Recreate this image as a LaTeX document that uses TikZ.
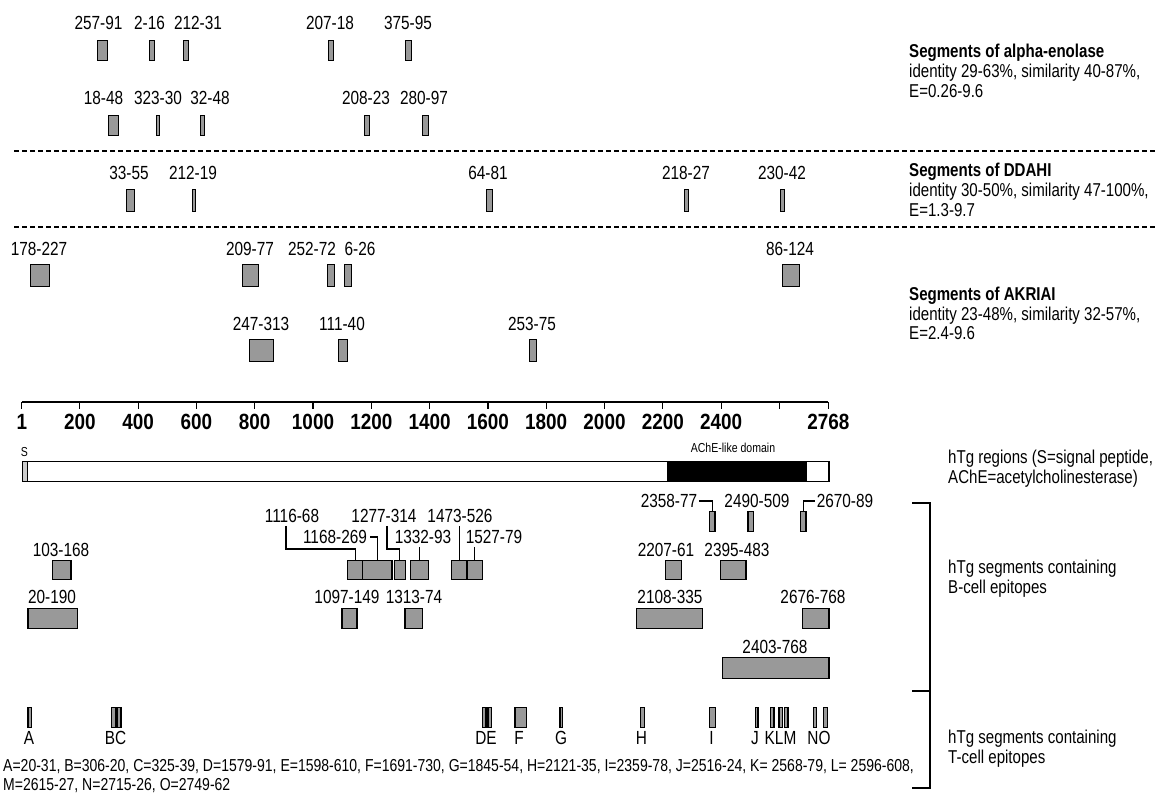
\documentclass[tikz,border=0pt]{standalone}
\usepackage{fontspec}
\setmainfont{Liberation Sans}[FakeStretch=0.81]
\newfontfamily\tickfont[FakeStretch=0.86]{Liberation Sans}
\pgfmathdeclarefunction{rx}{1}{\pgfmathparse{21.5+0.2915*#1}}
\newcommand{\pbox}[5]{%
  \pgfmathsetmacro{\segW}{#3-#2}\pgfmathsetmacro{\segH}{#5-#4}%
  \node[seg, minimum width=\segW pt, minimum height=\segH pt] (#1) at (#2,#4) {};}
\newcommand{\rbox}[5]{%
  \pgfmathsetmacro{\segXa}{rx(#2)}\pgfmathsetmacro{\segXb}{rx(#3)}%
  \pbox{#1}{\segXa}{\segXb}{#4}{#5}}
\definecolor{segfill}{gray}{0.6}
\begin{document}
\begin{tikzpicture}[x=1pt,y=-1pt,
  lab/.style={font=\fontsize{19}{22}\selectfont, inner sep=0pt},
  txt/.style={font=\fontsize{18.6}{21}\selectfont, inner sep=0pt, anchor=base west},
  btxt/.style={font=\fontsize{18.6}{21}\selectfont\bfseries, inner sep=0pt, anchor=base west},
  foot/.style={font=\fontsize{17.3}{20}\selectfont, inner sep=0pt, anchor=base west},
  ticklab/.style={font=\tickfont\fontsize{22}{24}\selectfont\bfseries, inner sep=0pt},
  small/.style={font=\fontsize{13}{15}\selectfont, inner sep=0pt},
  seg/.style={draw=black, fill=segfill, line width=1.3pt, inner sep=0pt, anchor=north west},
  conn/.style={draw=black, line width=1.1pt},
  sep/.style={draw=black, line width=1.2pt, dash pattern=on 5pt off 3pt}]
\useasboundingbox (0,0) rectangle (1156,794);

% ---------- separators ----------
\coordinate (s1a) at (14,151); \coordinate (s1b) at (1156,151);
\coordinate (s2a) at (14,227); \coordinate (s2b) at (1156,227);
\draw[sep] (s1a) -- (s1b);
\draw[sep] (s2a) -- (s2b);

% ---------- alpha-enolase ----------
\node[lab] (e1) at (98.5,23) {257-91};  \pbox{eb1}{97}{107}{40}{60}
\node[lab] (e2) at (149.5,23) {2-16};   \pbox{eb2}{149}{154}{40}{60}
\node[lab] (e3) at (198,23) {212-31};   \pbox{eb3}{183}{188}{40}{60}
\node[lab] (e4) at (330,23) {207-18};   \pbox{eb4}{328}{333}{40}{60}
\node[lab] (e5) at (408,23) {375-95};   \pbox{eb5}{405}{411}{40}{60}
\node[lab] (e6) at (103.5,98) {18-48};  \pbox{eb6}{108}{118}{115}{135}
\node[lab] (e7) at (158,98) {323-30};   \pbox{eb7}{156}{159}{115}{135}
\node[lab] (e8) at (210,98) {32-48};    \pbox{eb8}{200}{204}{115}{135}
\node[lab] (e9) at (366,98) {208-23};   \pbox{eb9}{364}{369}{115}{135}
\node[lab] (e10) at (424,98) {280-97};  \pbox{eb10}{422}{428}{115}{135}
\node[btxt] (eh1) at (909,58) {Segments of alpha-enolase};
\node[txt] (eh2) at (909,78) {identity 29-63\%, similarity 40-87\%,};
\node[txt] (eh3) at (909,98) {E=0.26-9.6};

% ---------- DDAHI ----------
\node[lab] (d1) at (129,173) {33-55};  \pbox{db1}{126}{134}{189}{211}
\node[lab] (d2) at (193,173) {212-19}; \pbox{db2}{192}{195}{189}{211}
\node[lab] (d3) at (488,173) {64-81};  \pbox{db3}{486}{492}{189}{211}
\node[lab] (d4) at (686,173) {218-27}; \pbox{db4}{684}{688}{189}{211}
\node[lab] (d5) at (782,173) {230-42}; \pbox{db5}{780}{784}{189}{211}
\node[btxt] (dh1) at (909,177) {Segments of DDAHI};
\node[txt] (dh2) at (909,197) {identity 30-50\%, similarity 47-100\%,};
\node[txt] (dh3) at (909,217) {E=1.3-9.7};

% ---------- AKRIAI ----------
\node[lab] (a1) at (39,249) {178-227}; \pbox{ab1}{30}{49}{264}{286}
\node[lab] (a2) at (250,249) {209-77};  \pbox{ab2}{242}{258}{264}{286}
\node[lab] (a3) at (312,249) {252-72};  \pbox{ab3}{327}{334}{264}{286}
\node[lab] (a4) at (360,249) {6-26};    \pbox{ab4}{344}{351}{264}{286}
\node[lab] (a5) at (790,249) {86-124};  \pbox{ab5}{782}{799}{264}{286}
\node[lab] (a6) at (261,324) {247-313}; \pbox{ab6}{249}{273}{339}{361}
\node[lab] (a7) at (342,324) {111-40};  \pbox{ab7}{338}{347}{339}{361}
\node[lab] (a8) at (532,324) {253-75};  \pbox{ab8}{529}{536}{339}{361}
\node[btxt] (ah1) at (909,301) {Segments of AKRIAI};
\node[txt] (ah2) at (909,320) {identity 23-48\%, similarity 32-57\%,};
\node[txt] (ah3) at (909,339) {E=2.4-9.6};

% ---------- ruler ----------
\coordinate (axL) at ({rx(1)},402); \coordinate (axR) at ({rx(2768)},402);
\draw[line width=1.2pt] (axL) -- (axR);
\foreach \n in {1,200,400,...,2600,2768}
  \draw[line width=1.2pt] ({rx(\n)},402) -- ({rx(\n)},409);
\foreach \n in {1,200,400,...,2400,2768}
  \node[ticklab] (t\n) at ({rx(\n)},422) {\n};

% ---------- hTg bar ----------
\node[seg, fill=white, minimum width=806.6pt, minimum height=20pt] (barw) at (21.8,461) {};
\node[seg, fill=black!20, minimum width=5.3pt, minimum height=20pt] (sigp) at (21.8,461) {};
\rbox{ache}{2213}{2690}{461}{481}
\node[seg, fill=black, minimum width=139pt, minimum height=20pt] (acheb) at ({rx(2213)},461) {};
\node[small] (sl) at (24.5,452) {S};
\node[small] (al) at (733,448) {AChE-like domain};
\node[txt] (rh1) at (948,463) {hTg regions (S=signal peptide,};
\node[txt] (rh2) at (948,483) {AChE=acetylcholinesterase)};

% ---------- B-cell epitopes ----------
% row a
\node[lab] (b2358) at (669,501) {2358-77};  \rbox{bb2358}{2358}{2377}{511}{531}
\node[lab] (b2490) at (757,501) {2490-509}; \rbox{bb2490}{2490}{2509}{511}{531}
\node[lab] (b2670) at (845,501) {2670-89};  \rbox{bb2670}{2670}{2689}{511}{531}
\draw[conn] ([xshift=2pt]b2358.east) -| (bb2358.north);
\draw[conn] ([xshift=-2pt]b2670.west) -| (bb2670.north);
% row b
\node[lab] (b103) at (61,550) {103-168};   \rbox{bb103}{103}{168}{560}{579}
\node[lab] (b1116) at (292,516) {1116-68}; \rbox{bb1116}{1116}{1168}{560}{579}
\node[lab] (b1168) at (335,537) {1168-269};\rbox{bb1168}{1168}{1269}{560}{579}
\node[lab] (b1277) at (384,516) {1277-314};\rbox{bb1277}{1277}{1314}{560}{579}
\node[lab] (b1332) at (423,537) {1332-93}; \rbox{bb1332}{1332}{1393}{560}{579}
\node[lab] (b1473) at (460,516) {1473-526};\rbox{bb1473}{1473}{1526}{560}{579}
\node[lab] (b1527) at (494,537) {1527-79}; \rbox{bb1527}{1527}{1579}{560}{579}
\node[lab] (b2207) at (666,550) {2207-61}; \rbox{bb2207}{2207}{2261}{560}{579}
\node[lab] (b2395) at (737,550) {2395-483};\rbox{bb2395}{2395}{2483}{560}{579}
\draw[conn] ([xshift=-6pt,yshift=-3pt]b1116.south) |- ([yshift=11pt]bb1116.north) -- (bb1116.north);
\draw[conn] ([xshift=3pt]b1168.east) -| (bb1168.north);
\draw[conn] ([xshift=3pt,yshift=-3pt]b1277.south) |- ([yshift=11pt]bb1277.north) -- (bb1277.north);
\draw[conn] ([yshift=-3pt]b1332.south -| bb1332.north) -- (bb1332.north);
\draw[conn] ([yshift=-3pt]b1473.south -| bb1473.north) -- (bb1473.north);
\draw[conn] ([yshift=-3pt]b1527.south -| bb1527.north) -- (bb1527.north);
% row c
\node[lab] (b20) at (52,597) {20-190};     \rbox{bb20}{20}{190}{608}{628}
\node[lab] (b1097) at (347,597) {1097-149};\rbox{bb1097}{1097}{1149}{608}{628}
\node[lab] (b1313) at (414,597) {1313-74}; \rbox{bb1313}{1313}{1374}{608}{628}
\node[lab] (b2108) at (670,597) {2108-335};\rbox{bb2108}{2108}{2335}{608}{628}
\node[lab] (b2676) at (813,597) {2676-768};\rbox{bb2676}{2676}{2768}{608}{628}
% row d
\node[lab] (b2403) at (775,647) {2403-768};\rbox{bb2403}{2403}{2768}{657}{678}

% ---------- T-cell epitopes ----------
\rbox{tA}{20}{31}{707}{727}
\rbox{tB}{306}{320}{707}{727}
\rbox{tC}{325}{339}{707}{727}
\rbox{tD}{1579}{1591}{707}{727}
\rbox{tE}{1598}{1610}{707}{727}
\rbox{tF}{1691}{1730}{707}{727}
\rbox{tG}{1845}{1854}{707}{727}
\rbox{tH}{2121}{2135}{707}{727}
\rbox{tI}{2359}{2378}{707}{727}
\rbox{tJ}{2516}{2524}{707}{727}
\rbox{tK}{2568}{2579}{707}{727}
\rbox{tL}{2596}{2608}{707}{727}
\rbox{tM}{2615}{2627}{707}{727}
\rbox{tN}{2715}{2726}{707}{727}
\rbox{tO}{2749}{2762}{707}{727}
\node[lab] (lA) at (29,738) {A};
\node[lab] (lBC) at (115.5,738) {BC};
\node[lab] (lDE) at (486,738) {DE};
\node[lab] (lF) at (519,738) {F};
\node[lab] (lG) at (561,738) {G};
\node[lab] (lH) at (641.5,738) {H};
\node[lab] (lI) at (711.5,738) {I};
\node[lab] (lJ) at (755,738) {J};
\node[lab] (lKLM) at (780.5,738) {KLM};
\node[lab] (lNO) at (819,738) {NO};
\node[foot] (fn1) at (3,771) {A=20-31, B=306-20, C=325-39, D=1579-91, E=1598-610, F=1691-730, G=1845-54, H=2121-35, I=2359-78, J=2516-24, K= 2568-79, L= 2596-608,};
\node[foot] (fn2) at (3,790) {M=2615-27, N=2715-26, O=2749-62};

% ---------- bracket and right labels ----------
\coordinate (brT) at (930,503); \coordinate (brM) at (930,691); \coordinate (brB) at (930,788);
\coordinate (brTl) at (912,503); \coordinate (brMl) at (912,691); \coordinate (brBl) at (912,788);
\draw[line width=1.2pt] (brTl) -- (brT) -- (brB) -- (brBl);
\draw[line width=1.2pt] (brMl) -- (brM);
\node[txt] (bt1) at (948,573) {hTg segments containing};
\node[txt] (bt2) at (948,593) {B-cell epitopes};
\node[txt] (tt1) at (948,743) {hTg segments containing};
\node[txt] (tt2) at (948,763) {T-cell epitopes};
\end{tikzpicture}
\end{document}
